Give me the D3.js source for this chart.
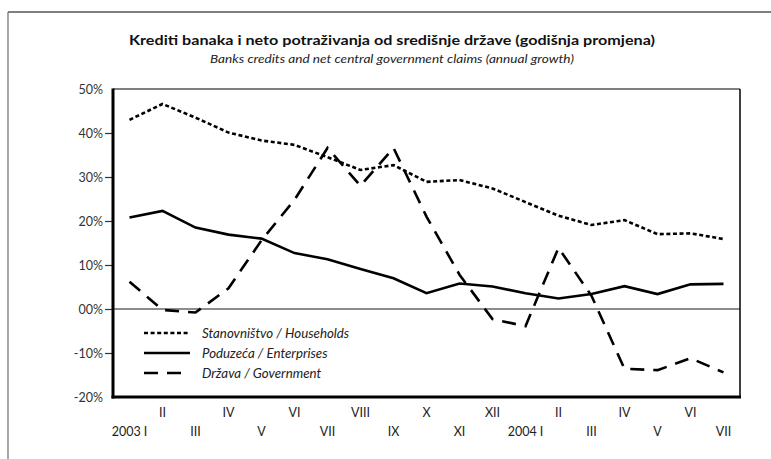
<!DOCTYPE html>
<html>
<head>
<meta charset="utf-8">
<script src="https://cdn.jsdelivr.net/npm/d3@7"></script>
<style>
  body { margin: 0; background: #fff; }
  svg { display: block; font-family: Lato, "Open Sans", sans-serif; }
</style>
</head>
<body>
<div id="app"></div>
<script>
// Months (2003 I .. 2004 VII)
const months = ["2003 I", "II", "III", "IV", "V", "VI", "VII", "VIII", "IX", "X", "XI", "XII",
  "2004 I", "II", "III", "IV", "V", "VI", "VII"];

// Annual growth, %
const households = [43.0, 46.6, 43.5, 40.1, 38.3, 37.3, 34.5, 31.6, 32.7, 28.9, 29.3, 27.4,
  24.3, 21.2, 19.1, 20.2, 17.0, 17.2, 15.9];
const enterprises = [20.8, 22.3, 18.5, 16.9, 16.0, 12.7, 11.3, 9.1, 7.0, 3.6, 5.8, 5.1,
  3.6, 2.4, 3.4, 5.2, 3.4, 5.6, 5.7];
const government = [6.2, -0.2, -0.8, 4.7, 15.6, 24.8, 36.6, 28.0, 36.6, 21.0, 7.8, -2.3,
  -3.9, 13.9, 3.0, -13.6, -13.9, -11.2, -14.4];

const yTicks = [50, 40, 30, 20, 10, 0, -10, -20];
const yTickLabels = ["50%", "40%", "30%", "20%", "10%", "00%", "-10%", "-20%"];

const series = [
  { name: "Stanovništvo / Households", values: households, dash: "4,2.6" },
  { name: "Poduzeća / Enterprises", values: enterprises, dash: null },
  { name: "Država / Government", values: government, dash: "14,9" }
];

const width = 771;
const height = 459;
const plotLeft = 113, plotRight = 740, plotTop = 89, plotBottom = 397;

const svg = d3.select("#app")
  .append("svg")
  .attr("width", width)
  .attr("height", height);

// outer frame (top and left only)
svg.append("line").attr("x1", 8).attr("x2", width).attr("y1", 12).attr("y2", 12)
  .attr("stroke", "#555").attr("stroke-width", 1.3);
svg.append("line").attr("x1", 8).attr("x2", 8).attr("y1", 12).attr("y2", height)
  .attr("stroke", "#777").attr("stroke-width", 1.3);

// Titles
svg.append("text")
  .attr("x", 392).attr("y", 45)
  .attr("text-anchor", "middle")
  .attr("font-weight", "bold")
  .attr("font-size", 14)
  .attr("fill", "#111")
  .attr("textLength", 526)
  .attr("lengthAdjust", "spacingAndGlyphs")
  .text("Krediti banaka i neto potraživanja od središnje države (godišnja promjena)");

svg.append("text")
  .attr("x", 392).attr("y", 63)
  .attr("text-anchor", "middle")
  .attr("font-style", "italic")
  .attr("font-size", 11.5)
  .attr("fill", "#222")
  .attr("textLength", 364)
  .attr("lengthAdjust", "spacingAndGlyphs")
  .text("Banks credits and net central government claims (annual growth)");

// Scales
const x = d3.scalePoint()
  .domain(d3.range(months.length))
  .range([plotLeft, plotRight])
  .padding(0.5);

const y = d3.scaleLinear()
  .domain([-20, 50])
  .range([plotBottom, plotTop]);

// Y axis
const yAxis = d3.axisLeft(y)
  .tickValues(yTicks)
  .tickSize(8)
  .tickPadding(2)
  .tickFormat((d, i) => yTickLabels[i]);

const gy = svg.append("g")
  .attr("transform", `translate(${plotLeft}, 0)`)
  .call(yAxis);
gy.select(".domain").remove();
gy.selectAll(".tick line").attr("stroke", "#333").attr("stroke-width", 1.2);
gy.selectAll(".tick text")
  .attr("font-family", "Lato, sans-serif")
  .attr("font-size", 12.5)
  .attr("fill", "#333");
gy.selectAll(".tick").filter(d => d === 50 || d === -20).select("line").remove();

// X axis labels in two rows
const gx = svg.append("g");
gx.selectAll("text")
  .data(months)
  .enter()
  .append("text")
  .attr("x", (d, i) => x(i))
  .attr("y", (d, i) => (i % 2 === 1 ? 417 : 436))
  .attr("text-anchor", "middle")
  .attr("font-size", 12.5)
  .attr("fill", "#222")
  .text(d => d);

// Zero line
svg.append("line")
  .attr("x1", plotLeft).attr("x2", plotRight)
  .attr("y1", y(0)).attr("y2", y(0))
  .attr("stroke", "#666")
  .attr("stroke-width", 1.5);

// Plot frame: thin top/right, thick left/bottom
svg.append("line").attr("x1", plotLeft).attr("x2", plotRight).attr("y1", plotTop).attr("y2", plotTop)
  .attr("stroke", "#555").attr("stroke-width", 1.3);
svg.append("line").attr("x1", plotRight).attr("x2", plotRight).attr("y1", plotTop).attr("y2", plotBottom)
  .attr("stroke", "#000").attr("stroke-width", 1.5);
svg.append("line").attr("x1", plotLeft).attr("x2", plotLeft).attr("y1", plotTop - 0.5).attr("y2", plotBottom + 1.5)
  .attr("stroke", "#000").attr("stroke-width", 3);
svg.append("line").attr("x1", plotLeft - 1.5).attr("x2", plotRight + 1).attr("y1", plotBottom).attr("y2", plotBottom)
  .attr("stroke", "#000").attr("stroke-width", 3);

// Lines
const line = d3.line()
  .x((d, i) => x(i))
  .y(d => y(d));

svg.selectAll(".series")
  .data(series)
  .enter()
  .append("path")
  .attr("class", "series")
  .attr("d", d => line(d.values))
  .attr("fill", "none")
  .attr("stroke", "#000")
  .attr("stroke-width", 2.6)
  .attr("stroke-dasharray", d => d.dash);

// Legend
const legend = svg.append("g");
series.forEach((s, i) => {
  const ly = 333 + i * 20;
  legend.append("line")
    .attr("x1", 144).attr("x2", i === 2 ? 183 : 190)
    .attr("y1", ly).attr("y2", ly)
    .attr("stroke", "#000")
    .attr("stroke-width", 2.6)
    .attr("stroke-dasharray", s.dash);
  legend.append("text")
    .attr("x", 202).attr("y", ly + 4.5)
    .attr("font-style", "italic")
    .attr("font-size", 13.3)
    .attr("fill", "#222")
    .text(s.name);
});
</script>
</body>
</html>
